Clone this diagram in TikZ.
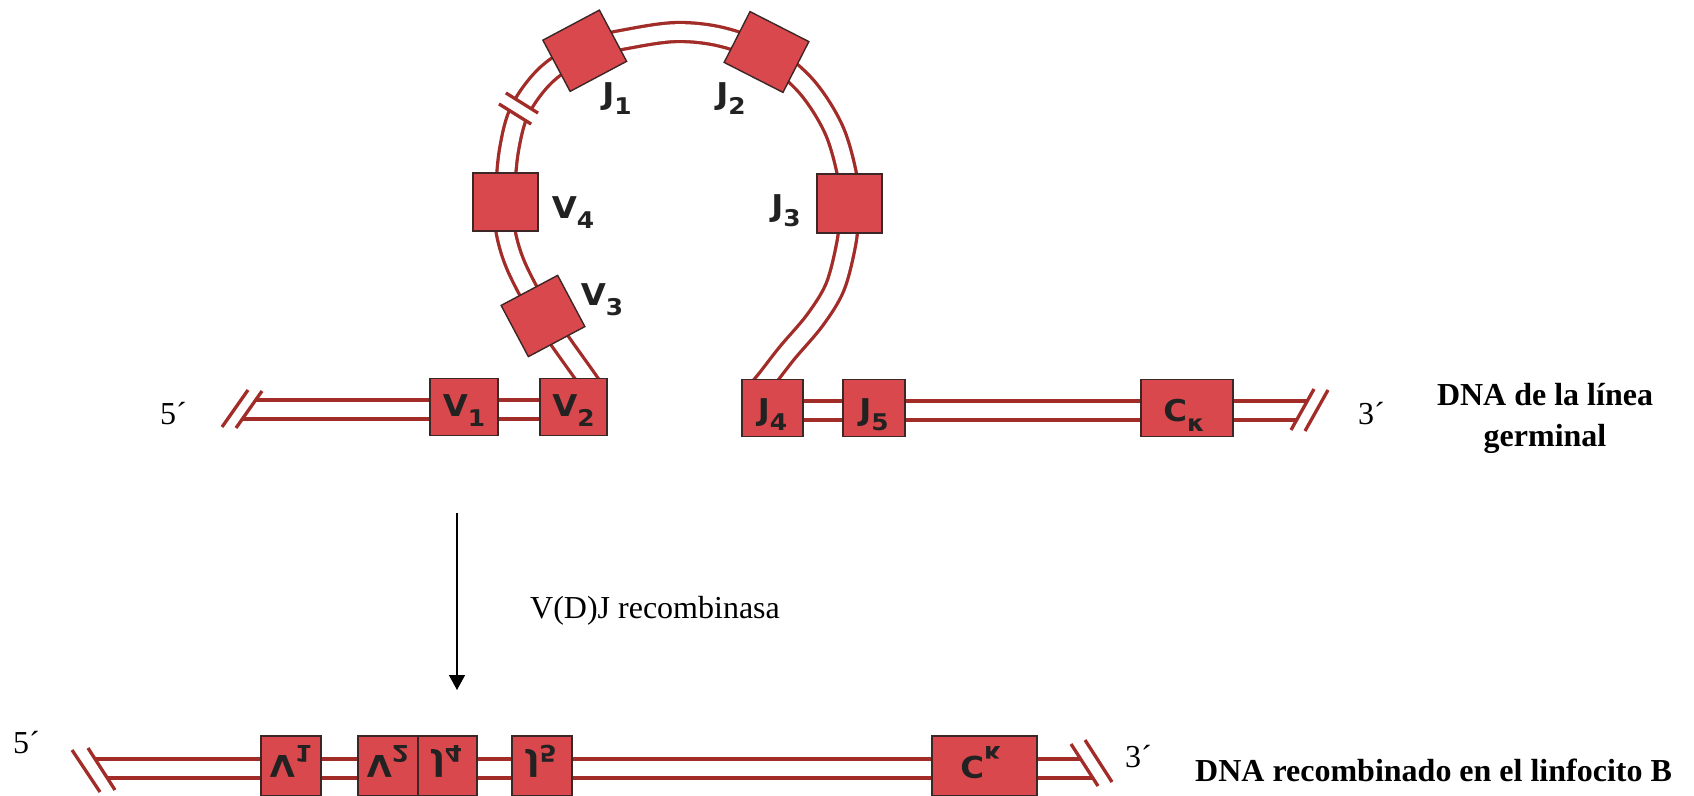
\documentclass[tikz,border=0pt]{standalone}
\usepackage{fontspec}
\setmainfont{Liberation Serif}
\newfontfamily\labfont{DejaVu Sans}
\usetikzlibrary{arrows.meta}
\pgfdeclarelayer{bg}
\pgfsetlayers{bg,main}
\definecolor{boxfill}{RGB}{217,72,76}
\definecolor{boxedge}{RGB}{60,38,38}
\definecolor{strandc}{RGB}{162,44,40}
\definecolor{labc}{RGB}{34,34,34}
\newcommand\lsub[1]{\raisebox{-10pt}{\fontsize{23}{23}\selectfont #1}}
\begin{document}
\begin{tikzpicture}[x=1pt,y=-1pt,
  strand/.style={draw=strandc, line width=3.3pt, double=white, double distance=15.7pt},
  hashline/.style={draw=strandc, line width=3.3pt},
  gbox/.style={draw=boxedge, fill=boxfill, line width=1.4pt, minimum height=57pt, minimum width=65pt, inner sep=0pt},
  lab/.style={font=\labfont\bfseries\fontsize{30}{30}\selectfont, text=labc, inner sep=0pt, xscale=1.08},
  serif/.style={font=\fontsize{32}{38}\selectfont, inner sep=0pt},
  boldtxt/.style={font=\bfseries\fontsize{32}{38}\selectfont, inner sep=0pt}]
\useasboundingbox (0,0) rectangle (1694,795);

% ---- top row boxes
\node[gbox, minimum width=68pt] (V1) at (464,407) {};
\node[gbox, minimum width=67pt] (V2) at (573.5,407) {};
\node[gbox, minimum width=61pt] (J4) at (772.5,408) {};
\node[gbox, minimum width=62pt] (J5) at (874,408) {};
\node[gbox, minimum width=92pt] (Ck) at (1187,408) {};
% ---- loop boxes
\node[gbox, minimum width=65pt, minimum height=58pt] (V4) at (505.5,202) {};
\node[gbox, minimum width=65pt, minimum height=59pt] (J3) at (849.5,203.5) {};
\node[gbox, minimum width=64pt, minimum height=58pt, rotate=28] (V3) at (543,316) {};
\node[gbox, minimum width=64pt, minimum height=58pt, rotate=28] (J1) at (584.75,50.75) {};
\node[gbox, minimum width=66pt, minimum height=57pt, rotate=-27] (J2) at (766.5,52) {};
% ---- bottom row boxes
\node[gbox, minimum width=60pt, minimum height=60pt] (bV1) at (291,766) {};
\node[gbox, minimum width=60pt, minimum height=60pt] (bV2) at (388,766) {};
\node[gbox, minimum width=59pt, minimum height=60pt] (bJ4) at (447.5,766) {};
\node[gbox, minimum width=60pt, minimum height=60pt] (bJ5) at (542,766) {};
\node[gbox, minimum width=105pt, minimum height=60pt] (bCk) at (984.5,766) {};

% ---- coordinates for strand ends
\coordinate (tl) at (242,409.5);
\coordinate (tr) at (1307,410.5);
\coordinate (bl) at (95,768.5);
\coordinate (br) at (1092,768.5);

\begin{pgfonlayer}{bg}
  % top row strands
  \draw[strand] (tl) -- (tl -| V2.center);
  \draw[strand] (J4.center |- tr) -- (tr);
  % loop
  \draw[strand] plot[smooth, tension=0.55] coordinates {(598,395) (587,379) (543,316) (516,266) (505,228) (505,195) (509,150) (520,110) (547,74) (587,49) (632,38) (678,32) (722,37) (767,54) (806,86) (834,130) (848,180) (849,215) (846,245) (835,287) (815,320) (787,353) (766,380) (753,395)};
  % bottom strands
  \draw[strand] (bl) -- (br);
  % break marks
  \fill[white] (222,427) -- (248,390) -- (262,391) -- (236,428) -- cycle;
  \draw[hashline] (222,427) -- (248,390) (236,428) -- (262,391);
  \fill[white] (1291,430) -- (1314,389) -- (1328,390) -- (1305,431) -- cycle;
  \draw[hashline] (1291,430) -- (1314,389) (1305,431) -- (1328,390);
  \fill[white] (72,750) -- (100,792) -- (115,790) -- (88,748) -- cycle;
  \draw[hashline] (72,750) -- (100,792) (88,748) -- (115,790);
  \fill[white] (1071,744) -- (1098,786) -- (1112,782) -- (1085,740) -- cycle;
  \draw[hashline] (1071,744) -- (1098,786) (1085,740) -- (1112,782);
  \begin{scope}[shift={(518.5,108.5)}, rotate=58]
    \fill[white] (-6.5,-14) rectangle (6.5,14);
    \draw[hashline] (-6.5,-19) -- (-6.5,19) (6.5,-19) -- (6.5,19);
  \end{scope}
\end{pgfonlayer}

% ---- labels, top row
\node[lab] (lV1) at ([yshift=-4pt]V1.center) {V\lsub{1}};
\node[lab] (lV2) at ([yshift=-4pt]V2.center) {V\lsub{2}};
\node[lab] (lJ4) at ([yshift=-7pt]J4.center) {J\lsub{4}};
\node[lab] (lJ5) at ([yshift=-7pt]J5.center) {J\lsub{5}};
\node[lab] (lCk) at ([yshift=-7pt,xshift=-3pt]Ck.center) {C\lsub{κ}};
% ---- labels, loop
\node[lab] (lJ1) at (617,99) {J\lsub{1}};
\node[lab] (lJ2) at (731,99) {J\lsub{2}};
\node[lab] (lV4) at (573,213) {V\lsub{4}};
\node[lab] (lJ3) at (786,211) {J\lsub{3}};
\node[lab] (lV3) at (602,300) {V\lsub{3}};
% ---- labels, bottom row (flipped)
\node[lab, yscale=-1] (lbV1) at (291,761.5) {V\lsub{1}};
\node[lab, yscale=-1] (lbV2) at (388,761.5) {V\lsub{2}};
\node[lab, yscale=-1] (lbJ4) at (447.5,761.5) {J\lsub{4}};
\node[lab, yscale=-1] (lbJ5) at (542,761.5) {J\lsub{5}};
\node[lab, yscale=-1] (lbCk) at (981,763) {C\lsub{κ}};

% ---- texts
\node[serif, anchor=base west] (t5a) at (160,424) {5´};
\node[serif, anchor=base west] (t3a) at (1358,424) {3´};
\node[boldtxt, anchor=base] (g1) at (1545,405) {DNA de la línea};
\node[boldtxt, anchor=base] (g2) at (1545,446) {germinal};
\node[serif, anchor=base west] (t5b) at (13,753) {5´};
\node[serif, anchor=base west] (t3b) at (1125,767) {3´};
\node[boldtxt, anchor=base west] (rec) at (1195,781) {DNA recombinado en el linfocito B};
\node[serif, anchor=base west] (vdj) at (530,618) {V(D)J recombinasa};

% ---- arrow
\coordinate (a1) at (457,513);
\coordinate (a2) at (457,690);
\draw[-{Triangle[width=16pt,length=15pt]}, line width=1.5pt] (a1) -- (a2);
\end{tikzpicture}
\end{document}
